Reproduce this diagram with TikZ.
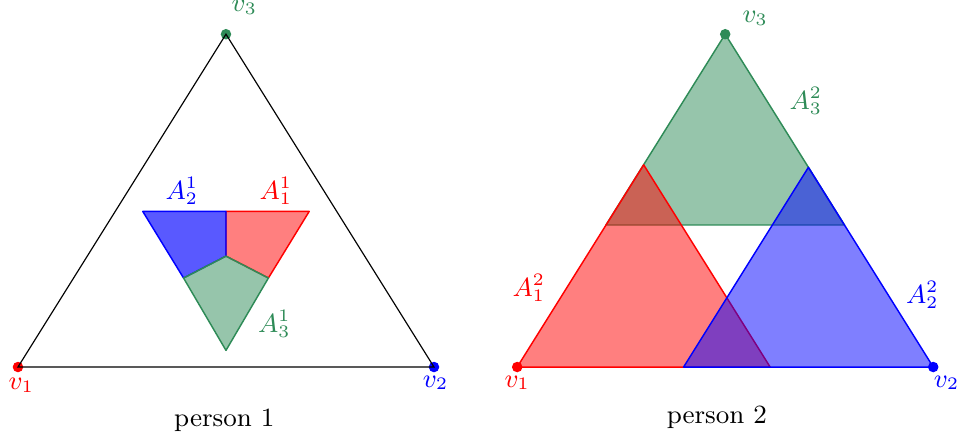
\documentclass[tikz,border=0pt]{standalone}
\usepackage{amsmath}
\usetikzlibrary{positioning}
\definecolor{vgreen}{RGB}{46,139,87}

\begin{document}
\begin{tikzpicture}[
        vertex/.style={circle, fill, inner sep=0pt, minimum size=3.6pt},
        region/.style={fill opacity=0.5, line join=round, line width=0.5pt},
        lbl/.style={font=\small}
    ]
    \useasboundingbox (-0.216,-0.877) rectangle (11.334,4.411);

    % person 1
    \node[vertex, red] (a1) at (0,0) {};
    \node[vertex, blue] (a2) at (5,0) {};
    \node[vertex, vgreen] (a3) at (2.5,4) {};
    \draw (a1.center) -- (a2.center) -- (a3.center) -- cycle;

    \coordinate (c) at (2.5,1.333);
    \draw[region, red, fill=red] (2.5,1.87) -- (3.5,1.87) -- (3.01,1.07) -- (c) -- cycle;
    \draw[region, blue, fill=blue, fill opacity=0.65] (1.5,1.87) -- (2.5,1.87) -- (c) -- (1.99,1.07) -- cycle;
    \draw[region, vgreen, fill=vgreen] (1.99,1.07) -- (c) -- (3.01,1.07) -- (2.5,0.2) -- cycle;

    \node[lbl, red] at (0.04,-0.22) {$v_1$};
    \node[lbl, blue] at (5.02,-0.19) {$v_2$};
    \node[lbl, vgreen] at (2.72,4.32) {$v_3$};
    \node[lbl, blue] at (1.97,2.12) {$A_2^1$};
    \node[lbl, red] at (3.10,2.12) {$A_1^1$};
    \node[lbl, vgreen] at (3.08,0.52) {$A_3^1$};
    \node[lbl] at (2.48,-0.64) {person 1};

    % person 2
    \begin{scope}[xshift=6cm]
        \draw[region, vgreen, fill=vgreen] (1.067,1.707) -- (2.5,4) -- (3.933,1.707) -- cycle;
        \draw[region, red, fill=red] (0,0) -- (3.04,0) -- (1.52,2.43) -- cycle;
        \draw[region, blue, fill=blue] (2,0) -- (5,0) -- (3.5,2.4) -- cycle;

        \node[vertex, red] (b1) at (0,0) {};
        \node[vertex, blue] (b2) at (5,0) {};
        \node[vertex, vgreen] (b3) at (2.5,4) {};

        \node[lbl, red] at (0,-0.19) {$v_1$};
        \node[lbl, blue] at (5.16,-0.19) {$v_2$};
        \node[lbl, vgreen] at (2.86,4.19) {$v_3$};
        \node[lbl, red] at (0.14,0.95) {$A_1^2$};
        \node[lbl, blue] at (4.87,0.87) {$A_2^2$};
        \node[lbl, vgreen] at (3.47,3.20) {$A_3^2$};
        \node[lbl] at (2.40,-0.60) {person 2};
    \end{scope}

\end{tikzpicture}
\end{document}
